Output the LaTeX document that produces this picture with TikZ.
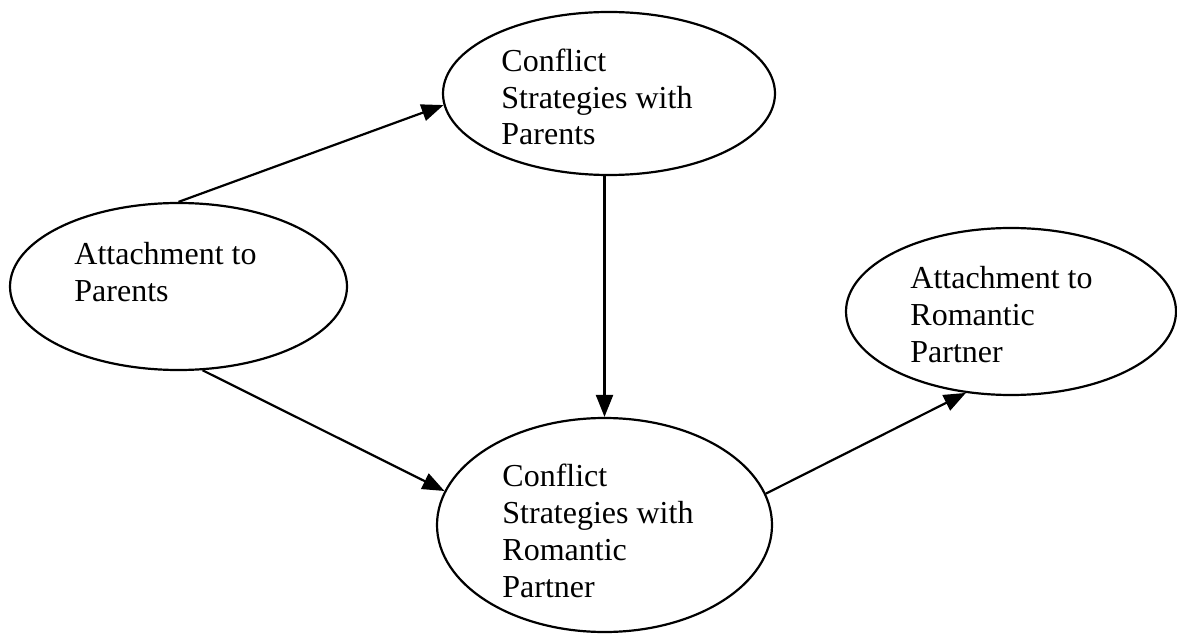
\documentclass[tikz,border=0pt]{standalone}
\usepackage{fontspec}
\setmainfont{Liberation Serif}
\usetikzlibrary{shapes.geometric,arrows.meta}

\begin{document}
\begin{tikzpicture}[x=0.5pt,y=0.5pt,yscale=-1,xscale=1,
  oval/.style={draw, ellipse, line width=1.1pt, inner sep=0pt},
  caption/.style={anchor=base west, inner sep=0pt, align=left, font=\fontsize{16}{18.4}\selectfont},
  link/.style={line width=1.1pt, -{Triangle[length=11pt,width=8.5pt]}}]
\useasboundingbox (0,0) rectangle (1177,636);

%Shape: Ellipse
\node [oval, minimum width=168.5pt, minimum height=83.5pt] (ap) at (178.5,286.5) {};
%Shape: Ellipse
\node [oval, minimum width=166pt, minimum height=81.5pt] (csp) at (609,93.5) {};
%Shape: Ellipse
\node [oval, minimum width=167.5pt, minimum height=107pt] (csr) at (604.5,525) {};
%Shape: Ellipse
\node [oval, minimum width=165pt, minimum height=83.5pt] (arp) at (1011,311.5) {};

%Straight Lines
\draw [link] (ap.north) -- (csp.184);
%Straight Lines
\draw [link] (ap.-74) -- (csr.168);
%Straight Lines
\draw [link] (csr.north |- csp.south) -- (csr.north);
%Straight Lines
\draw [link] (csr.11) -- (arp.241);

% Text Node (base = last line)
\node [caption] (tap) at (74,301) {Attachment to\\Parents};
% Text Node
\node [caption] (tcsp) at (501,145) {Conflict\\Strategies with\\Parents};
% Text Node
\node [caption] (tcsr) at (502,597) {Conflict\\Strategies with\\Romantic\\Partner};
% Text Node
\node [caption] (tarp) at (910,362) {Attachment to\\Romantic\\Partner};

\end{tikzpicture}
\end{document}
